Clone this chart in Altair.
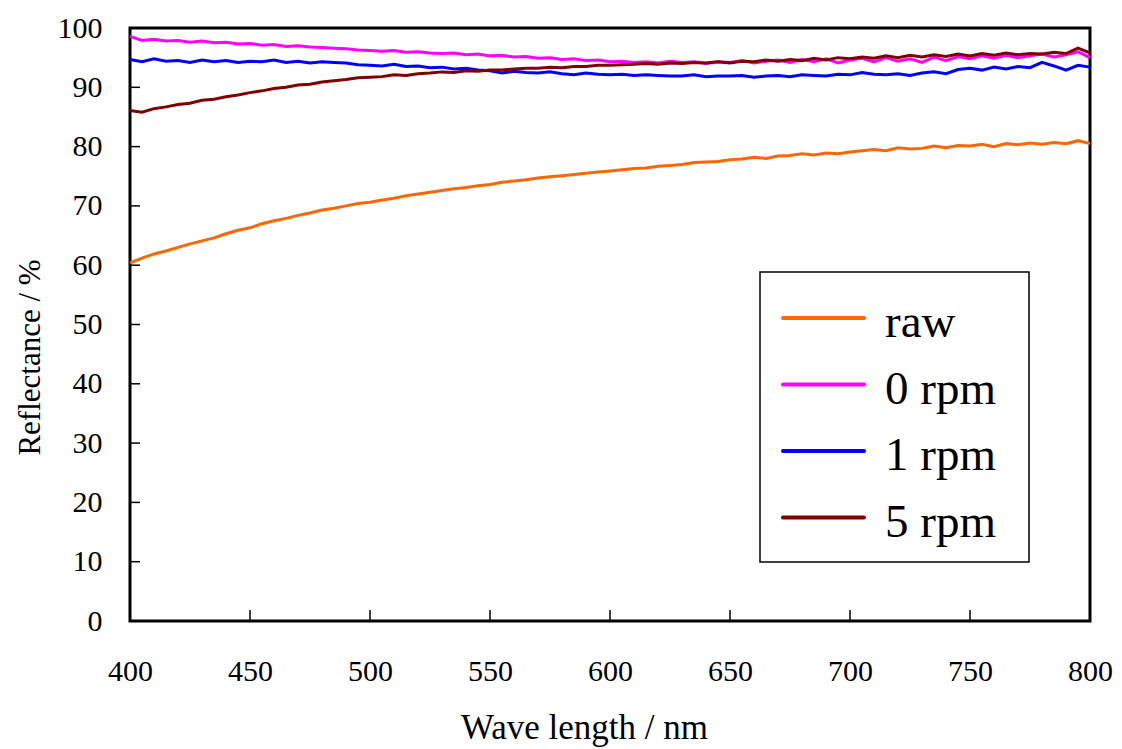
import altair as alt
import pandas as pd

wavelength = list(range(400, 801, 5))

raw = [60.4, 61.2, 61.9, 62.4, 63.0, 63.6, 64.1, 64.6, 65.3, 65.9,
       66.3, 67.0, 67.5, 67.9, 68.4, 68.8, 69.3, 69.6, 70.0, 70.4,
       70.6, 71.0, 71.3, 71.7, 72.0, 72.3, 72.6, 72.9, 73.1, 73.4,
       73.6, 74.0, 74.2, 74.4, 74.7, 74.9, 75.1, 75.3, 75.5, 75.7,
       75.9, 76.1, 76.3, 76.4, 76.7, 76.8, 77.0, 77.3, 77.4, 77.5,
       77.8, 77.9, 78.2, 78.0, 78.4, 78.5, 78.8, 78.6, 78.9, 78.8,
       79.1, 79.3, 79.5, 79.3, 79.8, 79.6, 79.7, 80.1, 79.8, 80.2,
       80.1, 80.4, 80.0, 80.5, 80.3, 80.6, 80.4, 80.7, 80.5, 81.0,
       80.5]

rpm0 = [98.6, 97.9, 98.1, 97.8, 97.9, 97.6, 97.8, 97.5, 97.6, 97.3,
        97.4, 97.1, 97.2, 96.9, 97.0, 96.8, 96.7, 96.6, 96.5, 96.3,
        96.2, 96.1, 96.2, 95.9, 96.0, 95.8, 95.7, 95.8, 95.5, 95.6,
        95.3, 95.4, 95.1, 95.2, 94.9, 95.0, 94.7, 94.8, 94.5, 94.6,
        94.3, 94.4, 94.2, 94.3, 94.1, 94.4, 94.2, 94.3, 94.0, 94.3,
        94.2, 94.5, 94.1, 94.4, 94.6, 94.2, 94.7, 94.3, 94.8, 94.1,
        94.6, 94.9, 94.3, 95.0, 94.4, 94.8, 94.2, 95.1, 94.5, 95.2,
        94.8, 95.3, 94.9, 95.4, 95.0, 95.3, 95.6, 95.1, 95.5, 96.0,
        95.0]

rpm1 = [94.7, 94.3, 94.8, 94.4, 94.5, 94.2, 94.6, 94.3, 94.5, 94.2,
        94.4, 94.3, 94.6, 94.2, 94.4, 94.1, 94.3, 94.2, 94.1, 93.8,
        93.7, 93.6, 93.9, 93.5, 93.6, 93.3, 93.4, 93.1, 93.2, 92.9,
        92.8, 92.4, 92.7, 92.5, 92.4, 92.6, 92.3, 92.1, 92.4, 92.2,
        92.1, 92.2, 92.0, 92.1, 92.0, 91.9, 91.9, 92.1, 91.8, 91.9,
        91.9, 92.0, 91.7, 91.9, 92.0, 91.8, 92.1, 92.0, 91.9, 92.2,
        92.1, 92.5, 92.2, 92.1, 92.3, 92.0, 92.4, 92.6, 92.3, 93.0,
        93.2, 92.9, 93.4, 93.1, 93.5, 93.3, 94.2, 93.6, 92.9, 93.7,
        93.4]

rpm5 = [86.1, 85.8, 86.4, 86.7, 87.1, 87.3, 87.8, 88.0, 88.4, 88.7,
        89.1, 89.4, 89.8, 90.0, 90.4, 90.5, 90.9, 91.1, 91.3, 91.6,
        91.7, 91.8, 92.1, 92.0, 92.3, 92.4, 92.6, 92.5, 92.8, 92.7,
        92.9, 92.9, 93.1, 93.2, 93.2, 93.4, 93.3, 93.5, 93.5, 93.7,
        93.7, 93.8, 93.9, 94.0, 93.9, 94.1, 94.0, 94.2, 94.1, 94.3,
        94.1, 94.4, 94.3, 94.6, 94.4, 94.7, 94.5, 94.9, 94.6, 95.0,
        94.8, 95.1, 94.9, 95.3, 95.0, 95.4, 95.1, 95.5, 95.2, 95.6,
        95.3, 95.7, 95.4, 95.8, 95.5, 95.7, 95.6, 95.9, 95.7, 96.6,
        95.8]

series_names = ["raw", "0 rpm", "1 rpm", "5 rpm"]
series_colors = ["#FF6600", "#FF00FF", "#0000FF", "#800000"]
series_values = [raw, rpm0, rpm1, rpm5]

x_ticks = [400, 450, 500, 550, 600, 650, 700, 750, 800]
y_ticks = [0, 10, 20, 30, 40, 50, 60, 70, 80, 90, 100]

FONT = "Liberation Serif"
W, H = 960, 593

rows = []
for name, vals in zip(series_names, series_values):
    for wl, v in zip(wavelength, vals):
        rows.append({"wl": wl, "R": v, "series": name})
df = pd.DataFrame(rows)

xscale = alt.Scale(domain=[400, 800], nice=False, zero=False)
yscale = alt.Scale(domain=[0, 100], nice=False)

lines = alt.Chart(df).mark_line(strokeWidth=3).encode(
    x=alt.X("wl:Q", scale=xscale,
            axis=alt.Axis(values=x_ticks, title="Wave length / nm", grid=False,
                          ticks=False, domain=False, labelFlush=False,
                          labelOverlap=False, labelPadding=35,
                          labelFontSize=30, labelFont=FONT, labelColor="black",
                          titleFont=FONT, titleFontSize=35, titleFontWeight="normal",
                          titleColor="black", titlePadding=24, titleX=454)),
    y=alt.Y("R:Q", scale=yscale,
            axis=alt.Axis(values=y_ticks, title="Reflectance / %", grid=False,
                          ticks=False, domain=False, labelFlush=False,
                          labelOverlap=False, labelPadding=28,
                          labelFontSize=30, labelFont=FONT, labelColor="black",
                          titleFont=FONT, titleFontSize=31, titleFontWeight="normal",
                          titleColor="black", titlePadding=11, titleY=329)),
    color=alt.Color("series:N", scale=alt.Scale(domain=series_names, range=series_colors),
                    legend=None),
    order=alt.Order("wl:Q"),
)

ytick_df = pd.DataFrame({"v": y_ticks[1:-1]})
yticks_layer = alt.Chart(ytick_df).mark_rule(color="black", strokeWidth=1.5).encode(
    y=alt.Y("v:Q", scale=yscale), x=alt.value(0), x2=alt.value(10))

xtick_df = pd.DataFrame({"v": x_ticks[1:-1]})
xticks_layer = alt.Chart(xtick_df).mark_rule(color="black", strokeWidth=1.5).encode(
    x=alt.X("v:Q", scale=xscale), y=alt.value(H), y2=alt.value(H - 11))

# legend box (manual)
legend_box = alt.Chart(pd.DataFrame({"a": [0]})).mark_rect(
    fill="white", stroke="black", strokeWidth=1.5).encode(
    x=alt.value(630), x2=alt.value(899), y=alt.value(244), y2=alt.value(534))

legend_layers = []
for i, (name, col) in enumerate(zip(series_names, series_colors)):
    ypos = 290 + i * 66.5
    d = pd.DataFrame({"name": [name]})
    legend_layers.append(
        alt.Chart(d).mark_rule(color=col, strokeWidth=4, strokeCap="round").encode(
            x=alt.value(653), x2=alt.value(734), y=alt.value(ypos)))
    legend_layers.append(
        alt.Chart(d).mark_text(align="left", baseline="middle", font=FONT,
                               fontSize=47, color="black", dy=5).encode(
            x=alt.value(755), y=alt.value(ypos), text="name:N"))

chart = alt.layer(lines, yticks_layer, xticks_layer, legend_box, *legend_layers).properties(
    width=W, height=H,
    autosize=alt.AutoSizeParams(type="none"),
    padding={"left": 130, "top": 28, "right": 32, "bottom": 128},
    background="white",
).configure_view(stroke="black", strokeWidth=3)

chart.save("out.html", embed_options={"renderer": "svg", "actions": False})
